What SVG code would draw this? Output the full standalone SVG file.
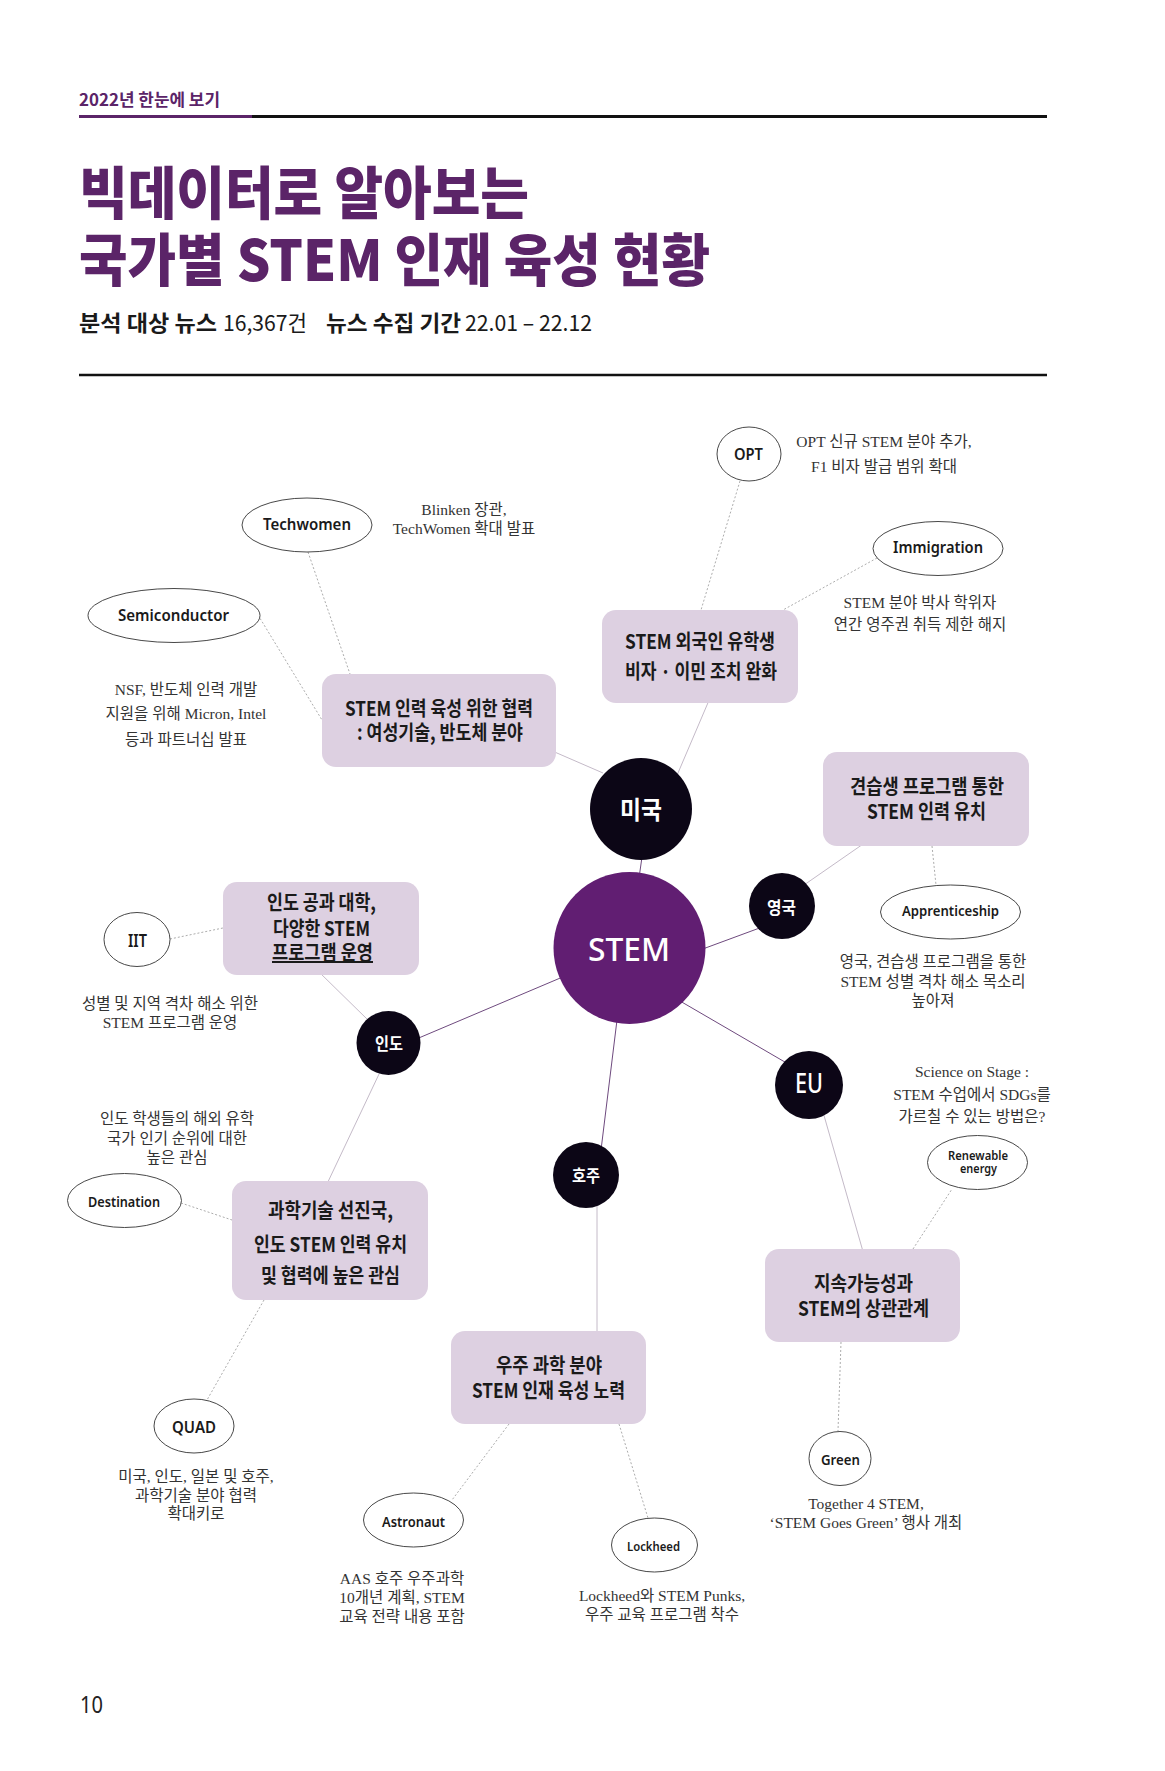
<svg xmlns="http://www.w3.org/2000/svg" width="1165" height="1771" viewBox="0 0 1165 1771">
<style>
.kr{font-family:"Noto Sans CJK KR","Noto Sans",sans-serif}
.hd{fill:#5b2468;font-weight:700}
.ttl{fill:#5b2468;font-weight:900;font-size:57px}
.sub{fill:#1a1a1a;font-size:22px}
.bx{fill:#ddd0e1}
.bt{fill:#1a1a1a;font-weight:700;font-size:20px}
.cc{fill:#0c0616}
.ct{fill:#fff;font-weight:700}
.el{fill:#fff;stroke:#333;stroke-width:0.9}
.et{font-family:"Noto Sans","Open Sans",sans-serif;fill:#1a1a1a;font-weight:600}
.an{font-family:"Liberation Serif","Noto Sans CJK KR",serif;font-size:15.5px;fill:#333;text-anchor:middle}
.pl{stroke:#6e4a7e;stroke-width:1;fill:none}
.gl{stroke:#c4bac8;stroke-width:1;fill:none}
.dl{stroke:#a3a3a3;stroke-width:0.9;stroke-dasharray:2 2;fill:none}
</style>
<rect width="1165" height="1771" fill="#fff"/>

<g id="header">
<text class="kr hd" x="79" y="106" font-size="17" textLength="141" lengthAdjust="spacingAndGlyphs">2022년 한눈에 보기</text>
<line x1="79" y1="116.5" x2="252" y2="116.5" stroke="#5b2468" stroke-width="3"/>
<line x1="252" y1="116.5" x2="1047" y2="116.5" stroke="#111" stroke-width="3"/>
<text class="kr ttl" x="79" y="214" textLength="450" lengthAdjust="spacingAndGlyphs">빅데이터로 알아보는</text>
<text class="kr ttl" x="79" y="281" textLength="631" lengthAdjust="spacingAndGlyphs">국가별 STEM 인재 육성 현황</text>
<text class="kr sub" x="79" y="331" font-weight="700" textLength="138" lengthAdjust="spacingAndGlyphs">분석 대상 뉴스</text>
<text class="kr sub" x="223" y="331" textLength="84" lengthAdjust="spacingAndGlyphs">16,367건</text>
<text class="kr sub" x="326" y="331" font-weight="700" textLength="135" lengthAdjust="spacingAndGlyphs">뉴스 수집 기간</text>
<text class="kr sub" x="465" y="331" textLength="127" lengthAdjust="spacingAndGlyphs">22.01 – 22.12</text>
<line x1="79" y1="375" x2="1047" y2="375" stroke="#111" stroke-width="2.5"/>
</g>

<g id="connectors">
<line class="pl" x1="639" y1="878" x2="643" y2="850"/>
<line class="pl" x1="700" y1="950" x2="765" y2="926"/>
<line class="pl" x1="565" y1="976" x2="414" y2="1040"/>
<line class="pl" x1="680" y1="1001" x2="790" y2="1065"/>
<line class="pl" x1="617" y1="1020" x2="601" y2="1150"/>
<line class="gl" x1="550" y1="750" x2="603" y2="773"/>
<line class="gl" x1="710" y1="698" x2="675" y2="780"/>
<line class="gl" x1="804" y1="885" x2="866" y2="842"/>
<line class="gl" x1="823" y1="1112" x2="864" y2="1255"/>
<line class="gl" x1="318" y1="971" x2="368" y2="1020"/>
<line class="gl" x1="380" y1="1072" x2="326" y2="1186"/>
<line class="gl" x1="597" y1="1205" x2="597" y2="1335"/>
<line class="dl" x1="308" y1="552" x2="350" y2="674"/>
<line class="dl" x1="258" y1="615" x2="322" y2="720"/>
<line class="dl" x1="740" y1="481" x2="701" y2="610"/>
<line class="dl" x1="877" y1="558" x2="783" y2="610"/>
<line class="dl" x1="932" y1="846" x2="936" y2="885"/>
<line class="dl" x1="170" y1="939" x2="223" y2="928"/>
<line class="dl" x1="181" y1="1203" x2="232" y2="1220"/>
<line class="dl" x1="264" y1="1300" x2="207" y2="1400"/>
<line class="dl" x1="509" y1="1424" x2="452" y2="1500"/>
<line class="dl" x1="619" y1="1424" x2="648" y2="1518"/>
<line class="dl" x1="913" y1="1249" x2="952" y2="1189"/>
<line class="dl" x1="841" y1="1342" x2="838" y2="1431"/>
</g>

<g id="stem">
<circle cx="629.5" cy="948" r="76" fill="#611e72"/>
<text x="588" y="961" font-family="Noto Sans, sans-serif" font-size="33" font-weight="500" fill="#fff" textLength="82" lengthAdjust="spacingAndGlyphs">STEM</text>
</g>
<g id="usa">
<circle class="cc" cx="641" cy="809" r="51"/>
<text class="kr ct" x="620" y="819" font-size="25" textLength="42" lengthAdjust="spacingAndGlyphs">미국</text>
</g>
<g id="uk">
<circle class="cc" cx="782" cy="906" r="33"/>
<text class="kr ct" x="767" y="914" font-size="17" textLength="29" lengthAdjust="spacingAndGlyphs">영국</text>
</g>
<g id="eu">
<circle class="cc" cx="809" cy="1085" r="34"/>
<text x="795" y="1093" font-family="Noto Sans, sans-serif" font-size="27" font-weight="500" fill="#fff" textLength="28" lengthAdjust="spacingAndGlyphs">EU</text>
</g>
<g id="india">
<circle class="cc" cx="388.5" cy="1043" r="32"/>
<text class="kr ct" x="375" y="1050" font-size="17" textLength="28" lengthAdjust="spacingAndGlyphs">인도</text>
</g>
<g id="australia">
<circle class="cc" cx="586" cy="1175" r="33"/>
<text class="kr ct" x="572" y="1182" font-size="17" textLength="28" lengthAdjust="spacingAndGlyphs">호주</text>
</g>

<g id="box-us-coop">
<rect class="bx" x="322" y="674" width="234" height="93" rx="14"/>
<text class="kr bt" x="345" y="716" textLength="188" lengthAdjust="spacingAndGlyphs">STEM 인력 육성 위한 협력</text>
<text class="kr bt" x="357" y="740" textLength="166" lengthAdjust="spacingAndGlyphs">: 여성기술, 반도체 분야</text>
</g>
<g id="box-us-visa">
<rect class="bx" x="602" y="610" width="196" height="93" rx="14"/>
<text class="kr bt" x="625" y="649" textLength="150" lengthAdjust="spacingAndGlyphs">STEM 외국인 유학생</text>
<text class="kr bt" x="625" y="679" textLength="152" lengthAdjust="spacingAndGlyphs">비자 · 이민 조치 완화</text>
</g>
<g id="box-uk">
<rect class="bx" x="823" y="752" width="206" height="94" rx="14"/>
<text class="kr bt" x="850" y="794" textLength="154" lengthAdjust="spacingAndGlyphs">견습생 프로그램 통한</text>
<text class="kr bt" x="867" y="819" textLength="119" lengthAdjust="spacingAndGlyphs">STEM 인력 유치</text>
</g>
<g id="box-in-iit">
<rect class="bx" x="223" y="882" width="196" height="93" rx="14"/>
<text class="kr bt" x="267" y="910" textLength="109" lengthAdjust="spacingAndGlyphs">인도 공과 대학,</text>
<text class="kr bt" x="273" y="936" textLength="97" lengthAdjust="spacingAndGlyphs">다양한 STEM</text>
<text class="kr bt" x="272" y="960" textLength="101" lengthAdjust="spacingAndGlyphs" text-decoration="underline">프로그램 운영</text>
</g>
<g id="box-in-attract">
<rect class="bx" x="232" y="1181" width="196" height="119" rx="14"/>
<text class="kr bt" x="268" y="1218" textLength="125" lengthAdjust="spacingAndGlyphs">과학기술 선진국,</text>
<text class="kr bt" x="254" y="1252" textLength="153" lengthAdjust="spacingAndGlyphs">인도 STEM 인력 유치</text>
<text class="kr bt" x="261" y="1283" textLength="139" lengthAdjust="spacingAndGlyphs">및 협력에 높은 관심</text>
</g>
<g id="box-au">
<rect class="bx" x="451" y="1331" width="195" height="93" rx="14"/>
<text class="kr bt" x="496" y="1373" textLength="106" lengthAdjust="spacingAndGlyphs">우주 과학 분야</text>
<text class="kr bt" x="472" y="1398" textLength="153" lengthAdjust="spacingAndGlyphs">STEM 인재 육성 노력</text>
</g>
<g id="box-eu">
<rect class="bx" x="765" y="1249" width="195" height="93" rx="14"/>
<text class="kr bt" x="814" y="1291" textLength="99" lengthAdjust="spacingAndGlyphs">지속가능성과</text>
<text class="kr bt" x="798" y="1316" textLength="131" lengthAdjust="spacingAndGlyphs">STEM의 상관관계</text>
</g>

<g id="kw-techwomen">
<ellipse class="el" cx="307" cy="525" rx="65" ry="27"/>
<text class="et" x="263" y="530" font-size="16" textLength="88" lengthAdjust="spacingAndGlyphs">Techwomen</text>
</g>
<g id="kw-semiconductor">
<ellipse class="el" cx="174" cy="615.5" rx="86" ry="27"/>
<text class="et" x="118" y="621" font-size="16" textLength="111" lengthAdjust="spacingAndGlyphs">Semiconductor</text>
</g>
<g id="kw-opt">
<ellipse class="el" cx="749" cy="454" rx="32" ry="27"/>
<text class="et" x="734" y="460" font-size="16" textLength="29" lengthAdjust="spacingAndGlyphs">OPT</text>
</g>
<g id="kw-immigration">
<ellipse class="el" cx="938" cy="548.5" rx="65" ry="27"/>
<text class="et" x="893" y="553" font-size="16" textLength="90" lengthAdjust="spacingAndGlyphs">Immigration</text>
</g>
<g id="kw-apprenticeship">
<ellipse class="el" cx="950.5" cy="912" rx="70" ry="27"/>
<text class="et" x="902" y="916" font-size="14" textLength="97" lengthAdjust="spacingAndGlyphs">Apprenticeship</text>
</g>
<g id="kw-iit">
<ellipse class="el" cx="137" cy="939.5" rx="33" ry="27"/>
<text class="et" x="128" y="947" font-size="17" textLength="19" lengthAdjust="spacingAndGlyphs">IIT</text>
</g>
<g id="kw-destination">
<ellipse class="el" cx="124.5" cy="1200.5" rx="57" ry="27"/>
<text class="et" x="88" y="1207" font-size="14" textLength="72" lengthAdjust="spacingAndGlyphs">Destination</text>
</g>
<g id="kw-renewable">
<ellipse class="el" cx="977.5" cy="1162.5" rx="50" ry="27"/>
<text class="et" x="948" y="1160" font-size="12" textLength="60" lengthAdjust="spacingAndGlyphs">Renewable</text>
<text class="et" x="960" y="1173" font-size="12" textLength="37" lengthAdjust="spacingAndGlyphs">energy</text>
</g>
<g id="kw-quad">
<ellipse class="el" cx="194" cy="1426" rx="40" ry="27"/>
<text class="et" x="172" y="1433" font-size="16" textLength="44" lengthAdjust="spacingAndGlyphs">QUAD</text>
</g>
<g id="kw-astronaut">
<ellipse class="el" cx="413.5" cy="1520" rx="50" ry="27"/>
<text class="et" x="382" y="1527" font-size="13.5" textLength="63" lengthAdjust="spacingAndGlyphs">Astronaut</text>
</g>
<g id="kw-lockheed">
<ellipse class="el" cx="654.5" cy="1545" rx="43" ry="27"/>
<text class="et" x="627" y="1551" font-size="12" textLength="53" lengthAdjust="spacingAndGlyphs">Lockheed</text>
</g>
<g id="kw-green">
<ellipse class="el" cx="840" cy="1458.5" rx="31" ry="27"/>
<text class="et" x="821" y="1465" font-size="14" textLength="39" lengthAdjust="spacingAndGlyphs">Green</text>
</g>

<g id="notes">
<text class="an" x="464" y="515">Blinken 장관,</text>
<text class="an" x="464" y="534">TechWomen 확대 발표</text>
<text class="an" x="186" y="695">NSF, 반도체 인력 개발</text>
<text class="an" x="186" y="719">지원을 위해 Micron, Intel</text>
<text class="an" x="186" y="745">등과 파트너십 발표</text>
<text class="an" x="884" y="447">OPT 신규 STEM 분야 추가,</text>
<text class="an" x="884" y="472">F1 비자 발급 범위 확대</text>
<text class="an" x="920" y="608">STEM 분야 박사 학위자</text>
<text class="an" x="920" y="630">연간 영주권 취득 제한 해지</text>
<text class="an" x="933" y="967">영국, 견습생 프로그램을 통한</text>
<text class="an" x="933" y="987">STEM 성별 격차 해소 목소리</text>
<text class="an" x="933" y="1006">높아져</text>
<text class="an" x="170" y="1009">성별 및 지역 격차 해소 위한</text>
<text class="an" x="170" y="1028">STEM 프로그램 운영</text>
<text class="an" x="177" y="1124">인도 학생들의 해외 유학</text>
<text class="an" x="177" y="1144">국가 인기 순위에 대한</text>
<text class="an" x="177" y="1163">높은 관심</text>
<text class="an" x="972" y="1077">Science on Stage :</text>
<text class="an" x="972" y="1100">STEM 수업에서 SDGs를</text>
<text class="an" x="972" y="1122">가르칠 수 있는 방법은?</text>
<text class="an" x="196" y="1482">미국, 인도, 일본 및 호주,</text>
<text class="an" x="196" y="1501">과학기술 분야 협력</text>
<text class="an" x="196" y="1519">확대키로</text>
<text class="an" x="402" y="1584">AAS 호주 우주과학</text>
<text class="an" x="402" y="1603">10개년 계획, STEM</text>
<text class="an" x="402" y="1622">교육 전략 내용 포함</text>
<text class="an" x="662" y="1601">Lockheed와 STEM Punks,</text>
<text class="an" x="662" y="1620">우주 교육 프로그램 착수</text>
<text class="an" x="866" y="1509">Together 4 STEM,</text>
<text class="an" x="866" y="1528">‘STEM Goes Green’ 행사 개최</text>
</g>

<g id="page-number">
<text x="80" y="1713" font-family="Noto Sans, sans-serif" font-size="24" fill="#222" textLength="23" lengthAdjust="spacingAndGlyphs">10</text>
</g>
</svg>
